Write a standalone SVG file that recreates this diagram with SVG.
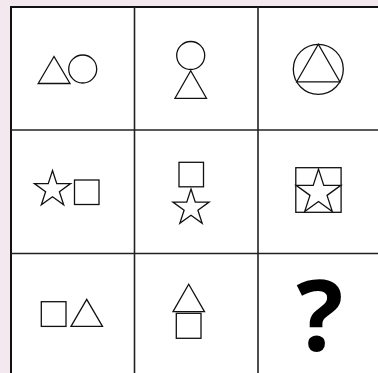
<svg xmlns="http://www.w3.org/2000/svg" xmlns:xlink="http://www.w3.org/1999/xlink" width="378" height="373" viewBox="0 0 378 373">
<style>
.sh{fill:none;stroke:#111;stroke-width:1.3;stroke-linejoin:miter}
.grid{fill:none;stroke:#222;stroke-width:1.6}
.q{font-family:"Open Sans","Noto Sans",sans-serif;font-weight:bold;font-size:98px;fill:#000}
</style>
<defs>
<path id="star19" d="M0,-19 L4.27,-5.87 L18.07,-5.87 L6.9,2.24 L11.17,15.37 L0,7.26 L-11.17,15.37 L-6.9,2.24 L-18.07,-5.87 L-4.27,-5.87 Z"/>
<path id="star23" d="M0,-23.5 L5.28,-7.26 L22.35,-7.26 L8.53,2.77 L13.82,19.01 L0,8.98 L-13.82,19.01 L-8.53,2.77 L-22.35,-7.26 L-5.28,-7.26 Z"/>
</defs>
<rect x="0" y="0" width="378" height="373" fill="#f3e8ee"/>
<g id="grid">
<rect x="11" y="7" width="372" height="372" fill="#fff" stroke="#111" stroke-width="2"/>
<line class="grid" x1="134.5" y1="7" x2="134.5" y2="373"/>
<line class="grid" x1="258" y1="7" x2="258" y2="373"/>
<line class="grid" x1="11" y1="130" x2="378" y2="130"/>
<line class="grid" x1="11" y1="253.5" x2="378" y2="253.5"/>
</g>
<g id="cell1">
<polygon class="sh" points="54,56.5 38.2,83.5 70,83.5"/>
<circle class="sh" cx="82.7" cy="69" r="14"/>
</g>
<g id="cell2">
<circle class="sh" cx="190.7" cy="55.5" r="14"/>
<polygon class="sh" points="190.7,70.7 175,98.3 206.5,98.3"/>
</g>
<g id="cell3">
<circle class="sh" cx="318.3" cy="69.3" r="25"/>
<polygon class="sh" points="318.3,44.3 296.7,81.8 339.9,81.8"/>
</g>
<g id="cell4">
<use xlink:href="#star19" class="sh" transform="translate(52.5,189.5)"/>
<rect class="sh" x="74.5" y="180" width="24.5" height="24.5"/>
</g>
<g id="cell5">
<rect class="sh" x="179" y="162.3" width="24.5" height="24.5"/>
<use xlink:href="#star19" class="sh" transform="translate(191,208)"/>
</g>
<g id="cell6">
<rect class="sh" x="295.8" y="167.7" width="45.3" height="44.6"/>
<use xlink:href="#star23" class="sh" transform="translate(318.5,192.6)"/>
</g>
<g id="cell7">
<rect class="sh" x="41.3" y="301.7" width="24.7" height="24.7"/>
<polygon class="sh" points="86.7,299.3 71,326.3 102.5,326.3"/>
</g>
<g id="cell8">
<polygon class="sh" points="188.7,284.3 173,311.7 204.5,311.7"/>
<rect class="sh" x="176.3" y="313.3" width="24.7" height="25"/>
</g>
<g id="cell9">
<text class="q" x="320" y="351" text-anchor="middle">?</text>
</g>
</svg>
